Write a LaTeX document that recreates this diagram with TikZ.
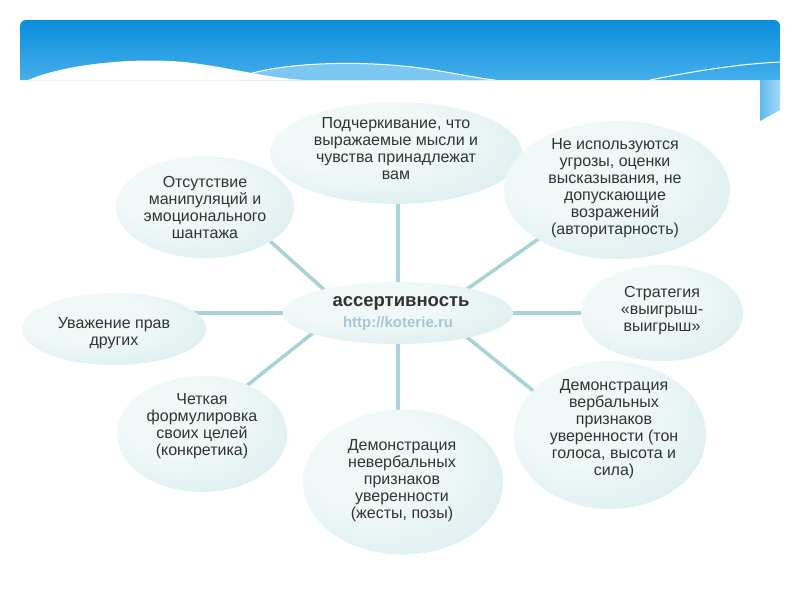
\documentclass[tikz,border=0pt]{standalone}
\usepackage{fontspec}
\setmainfont{Liberation Sans}
\usetikzlibrary{shapes.geometric,backgrounds}
\definecolor{hdtop}{HTML}{0A8EDC}
\definecolor{hdbot}{HTML}{45AEEA}
\definecolor{hdlite}{HTML}{7CC6F2}
\definecolor{stripa}{HTML}{63B9EE}
\definecolor{stripb}{HTML}{A4D9F7}
\definecolor{bubin}{HTML}{F0F8F8}
\definecolor{bubout}{HTML}{C2E1E4}
\definecolor{spk}{HTML}{A9D3D7}
\definecolor{ink}{HTML}{333333}
\definecolor{url}{HTML}{A6C6D6}
\pgfdeclareradialshading{bubble}{\pgfpoint{-12bp}{12bp}}{color(0bp)=(bubin); color(18bp)=(bubin); color(58bp)=(bubout)}

\begin{document}
\begin{tikzpicture}[x=1pt,y=-1pt,line join=round,
  bub/.style={ellipse,shade,shading=bubble,draw=none,inner sep=0pt},
  txt/.style={align=center,text=ink,font=\fontsize{16}{17}\selectfont},
  spoke/.style={draw=spk,line width=3.6pt}]
  \useasboundingbox (0,0) rectangle (800,600);
  % header band
  \shade[top color=hdtop,bottom color=hdbot] (20,80) {[rounded corners=6pt] -- (20,20) -- (780,20)} -- (780,80) -- cycle;
  \shade[left color=stripa,right color=stripb] (760,80) -- (780,80) -- (780,110) -- (760,121) -- cycle;
  \fill[hdlite] (240,77) .. controls (280,62) and (360,60) .. (420,68) .. controls (450,72) and (475,78) .. (495,80) -- (240,80) -- cycle;
  \draw[white,line width=1pt] (240,77) .. controls (280,62) and (360,60) .. (420,68) .. controls (450,72) and (475,78) .. (495,80);
  \fill[white] (28,80) .. controls (70,62) and (150,56) .. (200,64) .. controls (240,70) and (270,78) .. (305,80) -- cycle;
  \draw[white,line width=1pt] (650,80) .. controls (700,70) and (740,64) .. (780,62);
  % bubbles
  \node[bub,minimum width=230pt,minimum height=62pt] (c) at (398,313) {};
  \node[bub,minimum width=252pt,minimum height=102pt] (pq) at (396,153) {};
  \node[bub,minimum width=178pt,minimum height=102pt] (tl) at (205,207) {};
  \node[bub,minimum width=226pt,minimum height=138pt] (tr) at (617,190) {};
  \node[bub,minimum width=162pt,minimum height=96pt] (r) at (662,313) {};
  \node[bub,minimum width=184pt,minimum height=72pt] (l) at (114,329) {};
  \node[bub,minimum width=170pt,minimum height=116pt] (bl) at (202,434) {};
  \node[bub,minimum width=200pt,minimum height=145pt] (b) at (403,482) {};
  \node[bub,minimum width=192pt,minimum height=148pt] (br) at (610,435) {};
  % texts
  \node[text=ink,font=\bfseries\fontsize{18.5}{20}\selectfont] (c-t) at (401,303) {ассертивность};
  \node[text=url,font=\bfseries\fontsize{15}{17}\selectfont] (c-u) at (398,324) {http://koterie.ru};
  \node[txt] (pq-t) at (396,149) {Подчеркивание, что\\выражаемые мысли и\\чувства принадлежат\\вам};
  \node[txt] (tl-t) at (205,207) {Отсутствие\\манипуляций и\\эмоционального\\шантажа};
  \node[txt] (tr-t) at (615,188) {Не используются\\угрозы, оценки\\высказывания, не\\допускающие\\возражений\\(авторитарность)};
  \node[txt] (r-t) at (662,311) {Стратегия\\«выигрыш-\\выигрыш»};
  \node[txt] (l-t) at (114,333) {Уважение прав\\других};
  \node[txt] (bl-t) at (202,426) {Четкая\\формулировка\\своих целей\\(конкретика)};
  \node[txt] (b-t) at (402,481) {Демонстрация\\невербальных\\признаков\\уверенности\\(жесты, позы)};
  \node[txt] (br-t) at (614,429) {Демонстрация\\вербальных\\признаков\\уверенности (тон\\голоса, высота и\\сила)};
  % spokes behind the bubbles
  \begin{scope}[on background layer]
    \fill[white] (0,0) rectangle (800,600);
    \draw[spoke] (c) -- (c |- pq) (c) -- (c |- b) (c) -- (c -| l) (c) -- (c -| r);
    \draw[spoke] ([xshift=-48pt]c.center) -- ([xshift=27pt]tl.center);
    \draw[spoke] ([xshift=35pt]c.center) -- ([xshift=-9pt]tr.center);
    \draw[spoke] ([xshift=39pt]c.center) -- ([xshift=-22pt]br.center);
    \draw[spoke] ([xshift=-60pt]c.center) -- ([xshift=-16pt]bl.center);
  \end{scope}
\end{tikzpicture}
\end{document}
